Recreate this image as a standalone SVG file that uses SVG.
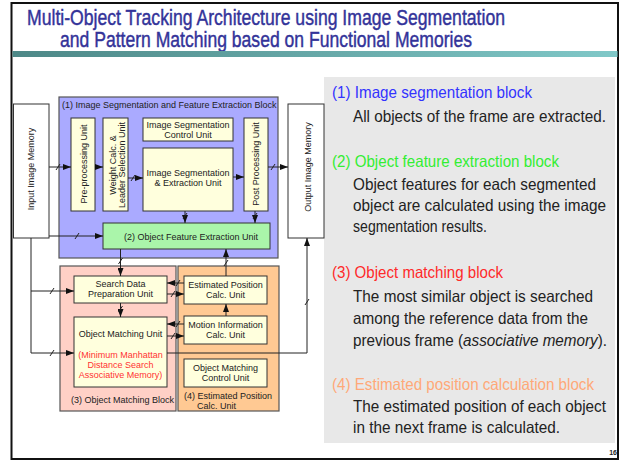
<svg xmlns="http://www.w3.org/2000/svg" width="621" height="461" viewBox="0 0 621 461">
<style>
.t{font-family:"Liberation Sans",Arial,sans-serif;font-size:9px;fill:#222}
.c{text-anchor:middle}
.h{font-family:"Liberation Sans Narrow","Liberation Sans",Arial,sans-serif;font-size:16.5px}
.b{fill:#222}
.box{stroke:#333;stroke-width:1}
.blk{stroke:#555;stroke-width:1.2}
.cream{fill:#ffffdd}
.ln{fill:none;stroke:#222;stroke-width:1}
.ttl{font-family:"Liberation Sans Narrow","Liberation Sans",Arial,sans-serif;font-size:22.5px;fill:#333399;stroke:#333399;stroke-width:0.45}
</style>
<defs>
<linearGradient id="bar" x1="0" x2="1" y1="0" y2="0">
<stop offset="0" stop-color="#4d8887"/>
<stop offset="1" stop-color="#80c8c8"/>
</linearGradient>
<marker id="ar" viewBox="0 0 8 6" refX="8" refY="3" markerWidth="8" markerHeight="6" markerUnits="userSpaceOnUse" orient="auto">
<path d="M0,0 L8,3 L0,6 z" fill="#111"/>
</marker>
<path id="sl" d="M-2,3 L2,-3" stroke="#222" stroke-width="1" fill="none"/>
</defs>

<rect x="0" y="0" width="621" height="461" fill="#fff"/>
<rect x="11.5" y="3" width="606.5" height="456" fill="none" stroke="#111" stroke-width="2"/>

<g id="title">
<text class="ttl" x="27" y="25" textLength="478" lengthAdjust="spacingAndGlyphs">Multi-Object Tracking Architecture using Image Segmentation</text>
<text class="ttl" x="60" y="47" textLength="412" lengthAdjust="spacingAndGlyphs">and Pattern Matching based on Functional Memories</text>
<rect x="12.5" y="51" width="605" height="6" fill="url(#bar)"/>
</g>

<g id="panel">
<rect x="324" y="77" width="291" height="366" fill="#e8e8e8"/>
<text class="h" x="332" y="98" fill="#3333ff" textLength="200" lengthAdjust="spacingAndGlyphs">(1) Image segmentation block</text>
<text class="h b" x="353" y="122" textLength="253" lengthAdjust="spacingAndGlyphs">All objects of the frame are extracted.</text>
<text class="h" x="332" y="167" fill="#33ee33" textLength="227" lengthAdjust="spacingAndGlyphs">(2) Object feature extraction block</text>
<text class="h b" x="353" y="190" textLength="243" lengthAdjust="spacingAndGlyphs">Object features for each segmented</text>
<text class="h b" x="353" y="211" textLength="253" lengthAdjust="spacingAndGlyphs">object are calculated using the image</text>
<text class="h b" x="353" y="232" textLength="134" lengthAdjust="spacingAndGlyphs">segmentation results.</text>
<text class="h" x="332" y="278" fill="#ff2a2a" textLength="171" lengthAdjust="spacingAndGlyphs">(3) Object matching block</text>
<text class="h b" x="353" y="302" textLength="240" lengthAdjust="spacingAndGlyphs">The most similar object is searched</text>
<text class="h b" x="353" y="324" textLength="235" lengthAdjust="spacingAndGlyphs">among the reference data from the</text>
<text class="h b" x="353" y="346" textLength="254" lengthAdjust="spacingAndGlyphs">previous frame (<tspan font-style="italic">associative memory</tspan>).</text>
<text class="h" x="332" y="390" fill="#ffa878" textLength="262" lengthAdjust="spacingAndGlyphs">(4) Estimated position calculation block</text>
<text class="h b" x="353" y="412" textLength="253" lengthAdjust="spacingAndGlyphs">The estimated position of each object</text>
<text class="h b" x="353" y="433" textLength="207" lengthAdjust="spacingAndGlyphs">in the next frame is calculated.</text>
<text x="617" y="455" text-anchor="end" font-family="'Liberation Sans',Arial,sans-serif" font-size="7" font-weight="bold" fill="#222">16</text>
</g>

<g id="block1">
<rect x="59" y="97" width="219" height="161" fill="#aaaaff" class="blk"/>
<text class="t" x="62" y="108">(1) Image Segmentation and Feature Extraction Block</text>
</g>
<g id="block3">
<rect x="60" y="266" width="116" height="145" fill="#ffd0c6" class="blk"/>
<text class="t" x="71" y="403">(3) Object Matching Block</text>
</g>
<g id="block4">
<rect x="178" y="266" width="101" height="145" fill="#ffc993" class="blk"/>
<text class="t" x="184" y="399">(4) Estimated Position</text>
<text class="t" x="197" y="409">Calc. Unit</text>
</g>

<g id="input-memory">
<rect x="13.5" y="104" width="35.5" height="134" fill="#fff" class="box"/>
<text class="t c" transform="translate(33.5,169) rotate(-90)">Input Image Memory</text>
</g>
<g id="output-memory">
<rect x="288" y="104" width="36" height="134" fill="#fff" class="box"/>
<text class="t c" transform="translate(310.5,167) rotate(-90)">Output Image Memory</text>
</g>

<g id="preprocessing">
<rect x="71" y="118" width="24" height="93" class="cream box"/>
<text class="t c" transform="translate(86.5,164) rotate(-90)">Pre-processing Unit</text>
</g>
<g id="weight-calc">
<rect x="103" y="118" width="25" height="93" class="cream box"/>
<text class="t c" transform="translate(115.5,165) rotate(-90)">Weight Calc. &amp;</text>
<text class="t c" transform="translate(125,165) rotate(-90)">Leader Selection Unit</text>
</g>
<g id="seg-control">
<rect x="143" y="118" width="90" height="23" class="cream box"/>
<text class="t c" x="188" y="127.5">Image Segmentation</text>
<text class="t c" x="188" y="137.5">Control Unit</text>
</g>
<g id="seg-extraction">
<rect x="143" y="148" width="90" height="63" class="cream box"/>
<text class="t c" x="188" y="176">Image Segmentation</text>
<text class="t c" x="188" y="185.5">&amp; Extraction Unit</text>
</g>
<g id="post-processing">
<rect x="244" y="118" width="24" height="93" class="cream box"/>
<text class="t c" transform="translate(258.5,164) rotate(-90)">Post Processing Unit</text>
</g>
<g id="feature-extraction">
<rect x="103" y="223" width="167" height="26" fill="#aaf5aa" class="box"/>
<text class="t c" x="191" y="240">(2) Object Feature Extraction Unit</text>
</g>
<g id="search-data">
<rect x="74" y="276" width="93" height="27" class="cream box"/>
<text class="t c" x="120.5" y="286.5">Search Data</text>
<text class="t c" x="120.5" y="296.5">Preparation Unit</text>
</g>
<g id="object-matching">
<rect x="74" y="317" width="93" height="70" class="cream box"/>
<text class="t c" x="120.5" y="337">Object Matching Unit</text>
<text class="t c" x="120.5" y="358" style="fill:#ff3333">(Minimum Manhattan</text>
<text class="t c" x="120.5" y="368" style="fill:#ff3333">Distance Search</text>
<text class="t c" x="120.5" y="378" style="fill:#ff3333">Associative Memory)</text>
</g>
<g id="estimated-position">
<rect x="184" y="276" width="83" height="28" class="cream box"/>
<text class="t c" x="225.5" y="288">Estimated Position</text>
<text class="t c" x="225.5" y="298">Calc. Unit</text>
</g>
<g id="motion-information">
<rect x="184" y="316" width="83" height="28" class="cream box"/>
<text class="t c" x="225.5" y="328">Motion Information</text>
<text class="t c" x="225.5" y="338">Calc. Unit</text>
</g>
<g id="matching-control">
<rect x="184" y="359" width="83" height="28" class="cream box"/>
<text class="t c" x="225.5" y="371">Object Matching</text>
<text class="t c" x="225.5" y="381">Control Unit</text>
</g>

<g id="connectors">
<path class="ln" d="M49,167 H71" marker-end="url(#ar)"/>
<use href="#sl" x="58" y="167"/>
<path class="ln" d="M95,167 H103" marker-end="url(#ar)"/>
<path class="ln" d="M128,178 H143" marker-end="url(#ar)"/>
<use href="#sl" x="133" y="178"/>
<path class="ln" d="M233,177 H244" marker-end="url(#ar)"/>
<path class="ln" d="M268,167 H288" marker-end="url(#ar)"/>
<use href="#sl" x="273" y="167"/>
<path class="ln" d="M185,211 V223" marker-end="url(#ar)"/>
<use href="#sl" x="185" y="216"/>
<path class="ln" d="M255,211 V223" marker-end="url(#ar)"/>
<use href="#sl" x="255" y="216"/>
<path class="ln" d="M49,236 H103" marker-end="url(#ar)"/>
<use href="#sl" x="77" y="236"/>
<path class="ln" d="M120.5,249 V276" marker-end="url(#ar)"/>
<use href="#sl" x="120.5" y="261"/>
<path class="ln" d="M226,276 V249" marker-end="url(#ar)"/>
<use href="#sl" x="226" y="263"/>
<path class="ln" d="M31,238 V353 H74" marker-end="url(#ar)"/>
<use href="#sl" x="52" y="353"/>
<path class="ln" d="M31,291 H74" marker-end="url(#ar)"/>
<use href="#sl" x="52" y="291"/>
<path class="ln" d="M120.5,303 V317" marker-end="url(#ar)"/>
<use href="#sl" x="120.5" y="309"/>
<path class="ln" d="M184,283 H167" marker-end="url(#ar)"/>
<use href="#sl" x="178" y="283"/>
<path class="ln" d="M167,294 H184" marker-end="url(#ar)"/>
<use href="#sl" x="173" y="294"/>
<path class="ln" d="M184,324 H167" marker-end="url(#ar)"/>
<use href="#sl" x="178" y="324"/>
<path class="ln" d="M167,336 H184" marker-end="url(#ar)"/>
<use href="#sl" x="173" y="336"/>
<path class="ln" d="M226,316 V304" marker-end="url(#ar)"/>
<path class="ln" d="M167,353 H307 V238" marker-end="url(#ar)"/>
<use href="#sl" x="307" y="302"/>
</g>
</svg>
